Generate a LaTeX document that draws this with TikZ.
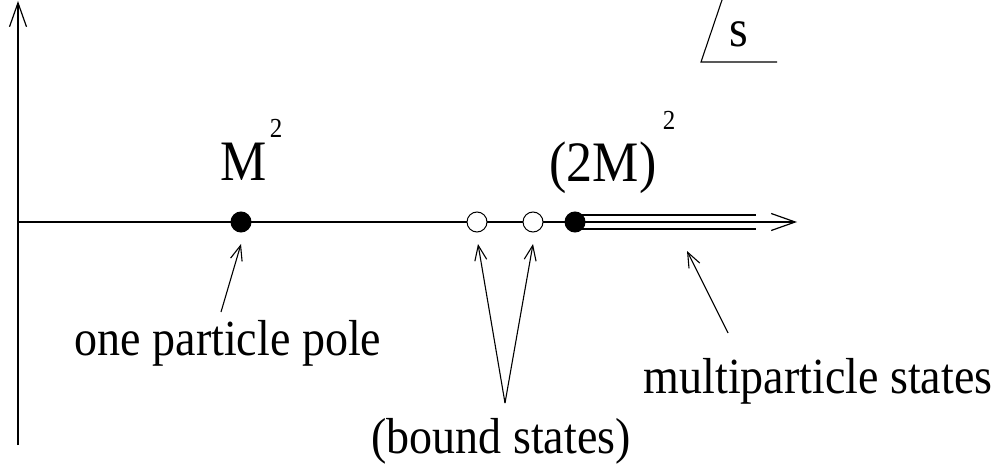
\documentclass[tikz,border=0pt]{standalone}
\usepackage{fontspec}
\setmainfont{Liberation Serif}
\usetikzlibrary{arrows.meta}
\newcommand{\vst}[1]{\scalebox{1}[1.1]{#1}}
\tikzset{
  axis/.style={line width=1.2pt, -{Straight Barb[length=24pt,width=17pt,line width=1.2pt]}},
  ptr/.style={line width=1.1pt, -{Straight Barb[length=15pt,width=12pt,line width=1.1pt]}},
  fdot/.style={circle, fill=black, draw=black, line width=1pt, minimum size=20pt, inner sep=0pt},
  odot/.style={circle, fill=white, draw=black, line width=1pt, minimum size=20pt, inner sep=0pt},
  big/.style={font=\fontsize{52}{60}\selectfont, inner sep=0pt, anchor=base},
  sup/.style={font=\fontsize{25}{30}\selectfont, inner sep=0pt, anchor=base},
  lab/.style={font=\fontsize{46}{52}\selectfont, inner sep=0pt, anchor=base},
}
\begin{document}
\begin{tikzpicture}[x=1pt,y=-1pt]
\useasboundingbox (0,0) rectangle (1000,465);
% axes
\coordinate (vb) at (18,445);
\coordinate (vt) at (18,1);
\coordinate (hl) at (18,222);
\coordinate (hr) at (797,222);
\draw[axis] (vb) -- (vt);
\draw[axis] (hl) -- (hr);
% triple line (cut)
\coordinate (c0) at (575,222);
\coordinate (c1) at (756,222);
\draw[line width=1.1pt] ([yshift=-7pt]c0) -- ([yshift=-7pt]c1);
\draw[line width=1.1pt] ([yshift=7pt]c0) -- ([yshift=7pt]c1);
% dots
\node[fdot] (m) at (241,222) {};
\node[odot] (b1) at (477,222) {};
\node[odot] (b2) at (533,222) {};
\node[fdot] (t) at (575,222) {};
% s label
\coordinate (s0) at (722,0);
\coordinate (s1) at (701,62);
\coordinate (s2) at (777,62);
\draw[line width=1.1pt] (s0) -- (s1) -- (s2);
\node[font=\fontsize{48}{56}\selectfont, inner sep=0pt, anchor=base] (s) at (739,47) {\vst{s}};
% labels
\node[big] (mlab) at (244,181) {\vst{M}};
\node[sup] (msup) at (276,138) {\vst{2}};
\node[big] (tlab) at (603,182) {\vst{(2M)}};
\node[sup] (tsup) at (669,130) {\vst{2}};
% bottom texts
\node[lab] (opp) at (228,355) {\vst{one particle pole}};
\node[lab] (mps) at (818,393) {\vst{multiparticle states}};
\node[lab] (bs) at (501,453) {\vst{(bound states)}};
% pointers
\coordinate (p1) at (221,312);
\coordinate (p1t) at (241,244);
\draw[ptr] (p1) -- (p1t);
\coordinate (bv) at (505,403);
\coordinate (b1t) at (478,244);
\coordinate (b2t) at (533,244);
\draw[ptr] (bv) -- (b1t);
\draw[ptr] (bv) -- (b2t);
\coordinate (mp) at (728,333);
\coordinate (mpt) at (687,251);
\draw[ptr] (mp) -- (mpt);
\end{tikzpicture}
\end{document}
